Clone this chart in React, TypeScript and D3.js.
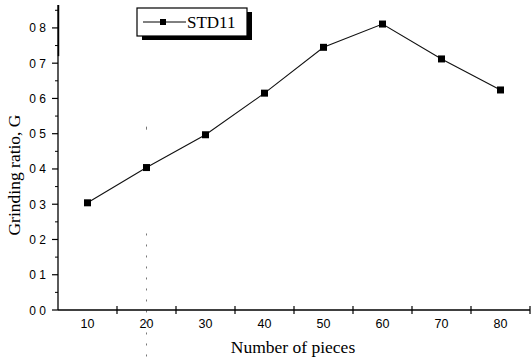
import React, { useEffect, useRef } from "react";
import * as d3 from "d3";

// ---- data ----
const pieces = [10, 20, 30, 40, 50, 60, 70, 80];
const grindingRatio = [0.304, 0.404, 0.497, 0.615, 0.745, 0.811, 0.712, 0.624];
const xTickLabels = ["10", "20", "30", "40", "50", "60", "70", "80"];
const xTickMarks = [15, 25, 35, 45, 55, 65, 75, 85];
const yTicks = [0, 0.1, 0.2, 0.3, 0.4, 0.5, 0.6, 0.7, 0.8];
const yMinorTicks = [0.05, 0.15, 0.25, 0.35, 0.45, 0.55, 0.65, 0.75, 0.85];
const seriesName = "STD11";

export default function App() {
  const ref = useRef<SVGSVGElement>(null);

  useEffect(() => {
    const width = 531;
    const height = 360;
    const margin = { top: 5, right: 1, bottom: 50, left: 58 };

    const svg = d3.select(ref.current);
    svg.selectAll("*").remove();

    const x = d3.scaleLinear().domain([5, 85]).range([margin.left, width - margin.right]);
    const y = d3.scaleLinear().domain([0, 0.865]).range([height - margin.bottom, margin.top]);

    const y0 = y(0);

    // scan artifact: dotted vertical line near x=20
    svg
      .append("line")
      .attr("x1", x(20))
      .attr("x2", x(20))
      .attr("y1", y(0.2) - 6)
      .attr("y2", height)
      .attr("stroke", "#777")
      .attr("stroke-width", 1)
      .attr("stroke-dasharray", "2 9");
    svg
      .append("rect")
      .attr("x", x(20) - 0.5)
      .attr("y", y(0.52))
      .attr("width", 1)
      .attr("height", 3)
      .attr("fill", "#777");

    // ---- axes ----
    // y axis
    svg
      .append("line")
      .attr("x1", x(5))
      .attr("x2", x(5))
      .attr("y1", y(0.865))
      .attr("y2", y0)
      .attr("stroke", "#000")
      .attr("stroke-width", 1.3);
    svg
      .append("line")
      .attr("x1", x(5) + 0.5)
      .attr("x2", x(5) + 0.5)
      .attr("y1", y(0.865))
      .attr("y2", y(0.72))
      .attr("stroke", "#000")
      .attr("stroke-width", 1.5);

    svg
      .selectAll(".ymaj")
      .data(yTicks)
      .join("line")
      .attr("x1", x(5) - 6)
      .attr("x2", x(5))
      .attr("y1", (d) => y(d))
      .attr("y2", (d) => y(d))
      .attr("stroke", "#000")
      .attr("stroke-width", 1.2);

    svg
      .selectAll(".ymin")
      .data(yMinorTicks)
      .join("line")
      .attr("x1", x(5) - 3)
      .attr("x2", x(5))
      .attr("y1", (d) => y(d))
      .attr("y2", (d) => y(d))
      .attr("stroke", "#000")
      .attr("stroke-width", 1);

    svg
      .selectAll(".ylab")
      .data(yTicks)
      .join("text")
      .attr("x", x(5) - 12)
      .attr("y", (d) => y(d) + 4.5)
      .attr("text-anchor", "end")
      .style("font-family", "Liberation Sans, Arial, sans-serif")
      .style("font-size", "12px")
      .text((d) => d3.format(".1f")(d).replace(".", " "));

    // x axis
    svg
      .append("line")
      .attr("x1", x(5))
      .attr("x2", x(85))
      .attr("y1", y0)
      .attr("y2", y0)
      .attr("stroke", "#000")
      .attr("stroke-width", 1.4);

    svg
      .selectAll(".xmaj")
      .data(xTickMarks)
      .join("line")
      .attr("x1", (d) => x(d))
      .attr("x2", (d) => x(d))
      .attr("y1", y0 - 4)
      .attr("y2", y0 + 4)
      .attr("stroke", "#000")
      .attr("stroke-width", 1.2);

    svg
      .selectAll(".xlab")
      .data(xTickLabels)
      .join("text")
      .attr("x", (d) => x(+d))
      .attr("y", y0 + 18)
      .attr("text-anchor", "middle")
      .style("font-family", "Liberation Sans, Arial, sans-serif")
      .style("font-size", "12.5px")
      .text((d) => d);

    // axis titles
    svg
      .append("text")
      .attr("x", 293)
      .attr("y", 353)
      .attr("text-anchor", "middle")
      .style("font-family", "Liberation Serif, Times New Roman, serif")
      .style("font-size", "17.5px")
      .text("Number of pieces");

    svg
      .append("text")
      .attr("transform", `translate(20, 175) rotate(-90)`)
      .attr("text-anchor", "middle")
      .style("font-family", "Liberation Serif, Times New Roman, serif")
      .style("font-size", "17.5px")
      .text("Grinding ratio, G");

    // ---- data ----
    const line = d3
      .line<number>()
      .x((d, i) => x(pieces[i]))
      .y((d) => y(d));

    svg
      .append("path")
      .datum(grindingRatio)
      .attr("d", line)
      .attr("fill", "none")
      .attr("stroke", "#111")
      .attr("stroke-width", 1.1);

    svg
      .selectAll(".pt")
      .data(grindingRatio)
      .join("rect")
      .attr("x", (d, i) => x(pieces[i]) - 3.5)
      .attr("y", (d) => y(d) - 3.5)
      .attr("width", 7)
      .attr("height", 7)
      .attr("fill", "#000");

    // ---- legend ----
    const lg = svg.append("g").attr("transform", "translate(137, 8)");
    const lw = 110;
    const lh = 28;
    lg.append("rect")
      .attr("x", 5)
      .attr("y", 4)
      .attr("width", lw)
      .attr("height", lh)
      .attr("fill", "#000");
    lg.append("rect")
      .attr("x", 0)
      .attr("y", 0)
      .attr("width", lw)
      .attr("height", lh)
      .attr("fill", "#fff")
      .attr("stroke", "#000")
      .attr("stroke-width", 1.2);
    lg.append("line")
      .attr("x1", 6)
      .attr("x2", 49)
      .attr("y1", 14)
      .attr("y2", 14)
      .attr("stroke", "#000")
      .attr("stroke-width", 1);
    lg.append("rect")
      .attr("x", 23)
      .attr("y", 11)
      .attr("width", 6)
      .attr("height", 6)
      .attr("fill", "#000");
    lg.append("text")
      .attr("x", 50)
      .attr("y", 20)
      .style("font-family", "Liberation Serif, Times New Roman, serif")
      .style("font-size", "17px")
      .text(seriesName);
  }, []);

  return <svg ref={ref} width={531} height={360} style={{ display: "block", position: "absolute", left: 0, top: 0 }} />;
}
